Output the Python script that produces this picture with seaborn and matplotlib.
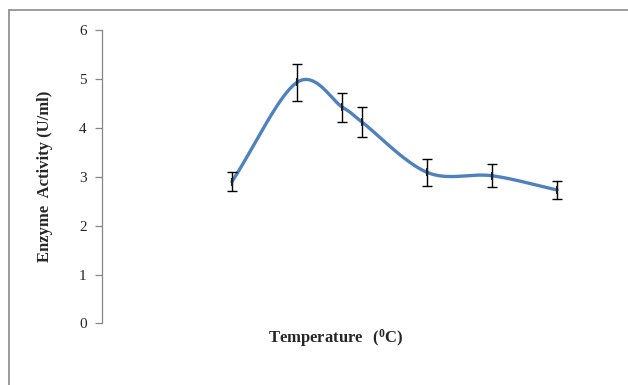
import numpy as np
import matplotlib
matplotlib.use('Agg')
import matplotlib.pyplot as plt
import seaborn as sns
import pandas as pd
from matplotlib.lines import Line2D

sns.set_style('white')
plt.rcParams['font.family'] = ['Liberation Serif', 'DejaVu Serif']
plt.rcParams['mathtext.fontset'] = 'custom'
plt.rcParams['mathtext.rm'] = 'Liberation Serif'
plt.rcParams['mathtext.bf'] = 'Liberation Serif:bold'

# data
temperature = [20, 30, 37, 40, 50, 60, 70]
activity = [2.90, 4.93, 4.42, 4.12, 3.09, 3.02, 2.73]
error = [0.20, 0.38, 0.30, 0.30, 0.28, 0.23, 0.18]

df = pd.DataFrame({'temperature': temperature, 'activity': activity, 'error': error})


def smooth_curve(x, y, n=40):
    # catmull-rom style smoothing, like Excel's "smoothed line"
    x = np.asarray(x, float)
    y = np.asarray(y, float)
    px = np.concatenate([[2 * x[0] - x[1]], x, [2 * x[-1] - x[-2]]])
    py = np.concatenate([[2 * y[0] - y[1]], y, [2 * y[-1] - y[-2]]])
    xs, ys = [], []
    t = np.linspace(0, 1, n)
    for i in range(1, len(px) - 2):
        p0, p1, p2, p3 = [np.array([px[j], py[j]]) for j in range(i - 1, i + 3)]
        b1 = p1 + (p2 - p0) / 6
        b2 = p2 - (p3 - p1) / 6
        pts = ((1 - t) ** 3)[:, None] * p1 + (3 * (1 - t) ** 2 * t)[:, None] * b1 \
            + (3 * (1 - t) * t ** 2)[:, None] * b2 + (t ** 3)[:, None] * p2
        xs.extend(pts[:, 0])
        ys.extend(pts[:, 1])
    return np.array(xs), np.array(ys)


sx, sy = smooth_curve(df['temperature'], df['activity'])
curve = pd.DataFrame({'x': sx, 'y': sy})

fig = plt.figure(figsize=(6.28, 3.85), dpi=100)
ax = fig.add_axes([0.1624, 0.160, 0.828, 0.762])

sns.lineplot(data=curve, x='x', y='y', ax=ax, color='#4F81BD', linewidth=2.4,
             sort=False, estimator=None)
ax.errorbar(df['temperature'], df['activity'], yerr=df['error'], fmt='none',
            ecolor='black', elinewidth=1.0, capsize=3.5, capthick=1.0, zorder=3)
ax.scatter(df['temperature'], df['activity'], marker='|', s=30, color='#1f1f1f',
           linewidths=1.5, zorder=4)

ax.set_xlim(0, 80)
ax.set_ylim(0, 6)
ax.set_yticks(range(0, 7))
ax.set_xticks([])
for side in ['top', 'right', 'bottom']:
    ax.spines[side].set_visible(False)
ax.spines['left'].set_color('#868686')
ax.spines['left'].set_linewidth(0.9)
ax.tick_params(axis='y', direction='out', length=5, width=0.9, color='#868686',
               labelsize=11, pad=6, left=True)

ax.set_ylabel('Enzyme  Activity (U/ml)', fontsize=12, fontweight='bold', va='center')
ax.yaxis.set_label_coords(-0.110, 0.5)
ax.set_xlabel(r'$\mathbf{Temperature\ \ (^{0}C)}$', fontsize=12, va='center')
ax.xaxis.set_label_coords(0.45, -0.05)

# chart area border (top and left)
fig.add_artist(Line2D([9 / 628, 1], [1 - 10 / 385, 1 - 10 / 385], color='#8a8a8a', lw=1.2,
                      transform=fig.transFigure))
fig.add_artist(Line2D([9 / 628, 9 / 628], [0, 1 - 10 / 385], color='#8a8a8a', lw=1.2,
                      transform=fig.transFigure))

fig.savefig('out.png', dpi=100)
